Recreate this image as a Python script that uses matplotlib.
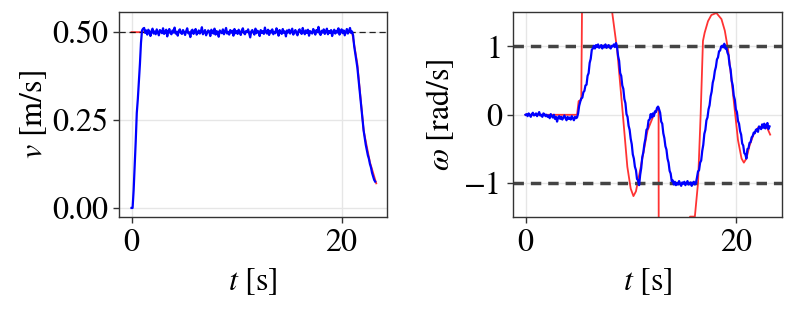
import numpy as np
import matplotlib
matplotlib.use("Agg")
import matplotlib.pyplot as plt

plt.rcParams['font.family'] = ['STIXGeneral', 'DejaVu Serif']
plt.rcParams['mathtext.fontset'] = 'stix'

dt = 0.1  # sampling step of the measured signals [s]

# ---- linear velocity (measured) ----
v_start = [0.00, 0.00, 0.05, 0.12, 0.19, 0.27, 0.31, 0.36, 0.41, 0.47, 0.505, 0.51]
v_cruise = [
    0.512, 0.498, 0.505, 0.493, 0.507, 0.501, 0.489, 0.503, 0.510, 0.496, 0.502, 0.494, 0.508, 0.499, 0.491, 0.506, 0.503, 0.497, 0.511, 0.495,
    0.500, 0.507, 0.488, 0.502, 0.509, 0.497, 0.494, 0.505, 0.499, 0.513, 0.496, 0.501, 0.490, 0.504, 0.508, 0.498, 0.495, 0.506, 0.500, 0.492,
    0.503, 0.511, 0.497, 0.499, 0.486, 0.504, 0.507, 0.495, 0.501, 0.509, 0.493, 0.498, 0.505, 0.496, 0.502, 0.514, 0.494, 0.500, 0.506, 0.491,
    0.498, 0.505, 0.502, 0.489, 0.507, 0.499, 0.496, 0.510, 0.493, 0.503, 0.500, 0.487, 0.505, 0.501, 0.497, 0.508, 0.494, 0.502, 0.512, 0.496,
    0.501, 0.493, 0.506, 0.499, 0.504, 0.490, 0.509, 0.497, 0.503, 0.495, 0.507, 0.500, 0.492, 0.505, 0.511, 0.498, 0.494, 0.503, 0.500, 0.508,
    0.496, 0.485, 0.502, 0.506, 0.499, 0.493, 0.510, 0.497, 0.504, 0.501, 0.489, 0.506, 0.498, 0.503, 0.495, 0.513, 0.500, 0.496, 0.507, 0.492,
    0.504, 0.499, 0.508, 0.494, 0.501, 0.497, 0.511, 0.503, 0.490, 0.506, 0.500, 0.495, 0.509, 0.498, 0.502, 0.488, 0.505, 0.499, 0.507, 0.496,
    0.503, 0.510, 0.493, 0.500, 0.506, 0.497, 0.491, 0.504, 0.508, 0.499, 0.495, 0.512, 0.501, 0.494, 0.505, 0.498, 0.507, 0.490, 0.503, 0.500,
    0.496, 0.509, 0.502, 0.493, 0.506, 0.500, 0.515, 0.497, 0.492, 0.504, 0.499, 0.508, 0.495, 0.501, 0.510, 0.494, 0.503, 0.498, 0.506, 0.489,
    0.501, 0.507, 0.496, 0.504, 0.499, 0.511, 0.493, 0.502, 0.508, 0.497, 0.505, 0.491, 0.500, 0.509, 0.496, 0.503, 0.512, 0.498, 0.502,
]
v_stop = [0.49, 0.46, 0.44, 0.42, 0.40, 0.37, 0.34, 0.31, 0.28, 0.25, 0.22,
          0.20, 0.18, 0.165, 0.15, 0.14, 0.125, 0.115, 0.10, 0.09, 0.08, 0.075]
v_meas = np.array(v_start + v_cruise + v_stop)
t_v = np.arange(len(v_meas)) * dt

# reference linear velocity
t_vref = [0.0, 21.0, 21.5, 22.1, 22.7, 23.3]
v_ref = [0.5, 0.5, 0.41, 0.22, 0.13, 0.07]
v_target = 0.5

# ---- angular velocity (measured) ----
w_idle = [0.00, 0.01, -0.02, 0.02, 0.00, -0.03, 0.01, 0.03, -0.01, 0.00, 0.02, -0.02, 0.01, 0.04, -0.01, 0.00, -0.03, 0.02, 0.01, -0.02,
          0.00, -0.03, -0.01, -0.05, 0.01, -0.02, -0.04, 0.00, -0.06, -0.03, -0.10, -0.04, -0.02, -0.06, -0.03, -0.07, -0.04, -0.01, -0.05, -0.08,
          -0.03, -0.06, -0.04, -0.07, -0.02, -0.05, -0.08, -0.03, -0.05, -0.04]
w_rise1 = [0.02, 0.13, 0.19, 0.24, 0.25, 0.33, 0.35, 0.43, 0.44, 0.57, 0.61, 0.76, 0.82, 0.95, 0.97]
w_high1 = [1.01, 0.97, 1.02, 0.99, 1.03, 0.98, 1.00, 1.02, 0.97, 1.01, 0.99, 1.03, 0.98, 1.00, 1.02, 0.99, 0.97, 1.01, 1.00, 1.03, 0.99, 1.05]
w_swing = [1.00, 0.86, 0.79, 0.61, 0.57, 0.43, 0.38, 0.23, 0.17, 0.01,
           -0.03, -0.16, -0.22, -0.35, -0.43, -0.58, -0.64, -0.76, -0.81, -0.94,
           -0.96, -1.03, -0.88, -0.78, -0.62, -0.55, -0.43, -0.35, -0.22, -0.20,
           -0.08, -0.07, 0.01, -0.04, 0.02, -0.02, 0.05, 0.04, 0.10, 0.12,
           0.08, 0.03, -0.10, -0.13, -0.27, -0.34, -0.46, -0.51, -0.64, -0.70,
           -0.82, -0.86, -0.97, -0.96, -1.02]
w_low = [-0.98, -1.03, -1.00, -1.02, -0.97, -1.01, -1.04, -0.99, -1.01, -0.98, -1.03, -1.00, -0.97, -1.02, -1.01, -0.99, -1.04, -1.00, -0.98, -1.02, -1.00]
w_end = [-0.92, -0.83, -0.81, -0.70, -0.67, -0.53, -0.44, -0.28, -0.22, -0.08,
         -0.04, 0.08, 0.14, 0.27, 0.34, 0.47, 0.53, 0.64, 0.70, 0.81,
         0.84, 0.93, 0.94, 1.00, 1.01, 0.99, 1.04, 0.97, 0.98, 0.91,
         0.87, 0.73, 0.66, 0.50, 0.43, 0.28, 0.22, 0.08, 0.04, -0.09,
         -0.13, -0.24, -0.29, -0.42, -0.45, -0.56, -0.58, -0.64, -0.50, -0.49,
         -0.41, -0.40, -0.33, -0.31, -0.26, -0.27, -0.22, -0.21, -0.25, -0.17,
         -0.19, -0.21, -0.14, -0.19, -0.13, -0.20, -0.15, -0.12, -0.21, -0.17]
w_meas = np.array(w_idle + w_rise1 + w_high1 + w_swing + w_low + w_end)
t_w = np.arange(len(w_meas)) * dt

# reference angular velocity
t_wref = [0.0, 4.9, 5.05, 5.3, 5.45, 6.5, 7.5, 8.24, 8.72, 9.2, 9.68, 10.0, 10.26, 10.5, 10.96,
          11.6, 12.2, 12.65, 12.68, 14.0, 15.5, 15.65, 16.1, 16.4, 16.65, 16.87, 17.03, 17.35,
          17.67, 18.15, 18.63, 18.95, 19.27, 19.59, 19.9, 20.2, 20.54, 20.76, 21.0, 21.3,
          21.7, 22.15, 22.7, 23.0, 23.26]
w_ref = [0.0, 0.0, 0.2, 0.22, 3.0, 2.6, 2.1, 1.5, 0.94, 0.1, -0.76, -1.08, -1.19, -1.12, -0.76,
         -0.23, 0.0, 0.11, -4.0, -3.5, -1.55, -1.49, -1.49, -1.0, 0.0, 1.08, 1.2, 1.37,
         1.46, 1.49, 1.4, 1.23, 0.94, 0.5, 0.06, -0.37, -0.64, -0.70, -0.64, -0.45,
         -0.28, -0.18, -0.17, -0.2, -0.29]
w_limits = [1.0, -1.0]

FS = 23

fig = plt.figure(figsize=(7.93, 3.09), dpi=100)
ax1 = fig.add_axes([0.1505, 0.2968, 0.338, 0.6634])
ax2 = fig.add_axes([0.6473, 0.2968, 0.3385, 0.6634])

for ax in (ax1, ax2):
    ax.grid(True, color='#e6e6e6', linewidth=1.0)
    ax.set_axisbelow(True)
    for s in ax.spines.values():
        s.set_color('#333333')
        s.set_linewidth(1.0)
    ax.tick_params(labelsize=FS, length=4.5, width=1.0, color='#333333', pad=3.5)
    ax.set_xlabel(r'$t$ [s]', fontsize=FS, labelpad=6)

# left: linear velocity
ax1.plot(t_vref, v_ref, color='#ff3333', linewidth=1.3)
ax1.axhline(v_target, color='black', linestyle=(0, (5, 3)), linewidth=0.9, alpha=0.85)
ax1.plot(t_v, v_meas, color='blue', linewidth=1.6)
ax1.set_xlim(-1.16, 24.36)
ax1.set_ylim(-0.0265, 0.5565)
ax1.set_xticks([0, 20])
ax1.set_yticks([0.0, 0.25, 0.5])
ax1.set_yticklabels(['0.00', '0.25', '0.50'])
ax1.set_ylabel(r'$v$ [m/s]', fontsize=FS, labelpad=2)

# right: angular velocity
ax2.plot(t_wref, w_ref, color='#ff3333', linewidth=1.3)
for lim in w_limits:
    ax2.axhline(lim, color='#444444', linestyle=(0, (3, 2)), linewidth=2.5)
ax2.plot(t_w, w_meas, color='blue', linewidth=1.6)
ax2.set_xlim(-1.16, 24.36)
ax2.set_ylim(-1.5, 1.5)
ax2.set_xticks([0, 20])
ax2.set_yticks([-1, 0, 1])
ax2.set_yticklabels(['\u22121', '0', '1'])
ax2.set_ylabel(r'$\omega$ [rad/s]', fontsize=FS, labelpad=6)

fig.savefig('out.png', dpi=100)
